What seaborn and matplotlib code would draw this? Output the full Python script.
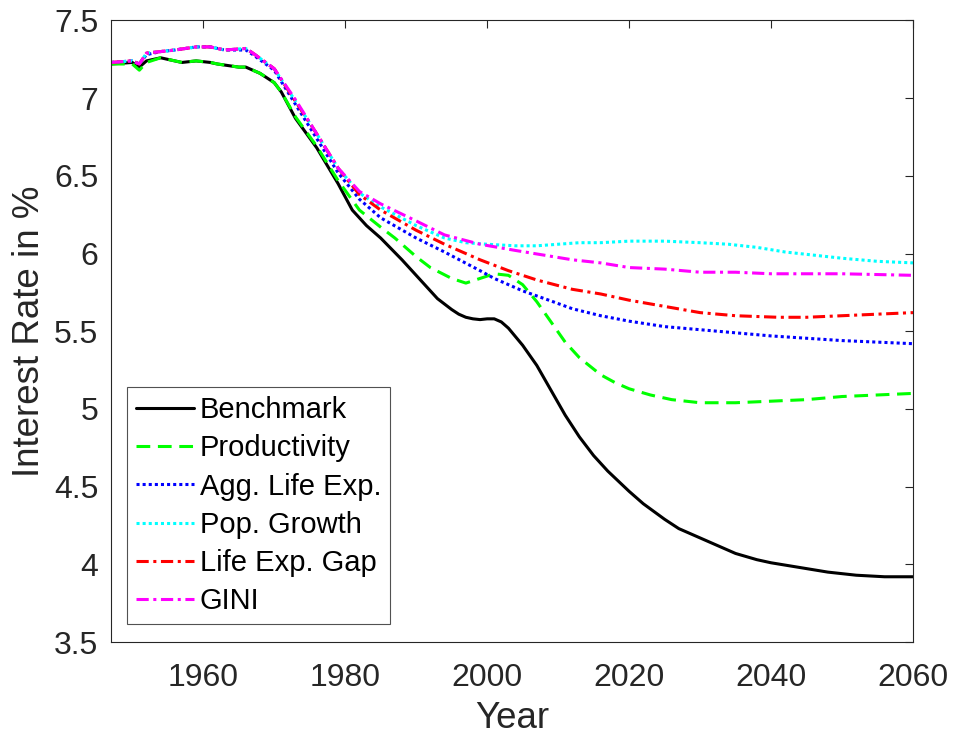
import matplotlib
matplotlib.use("Agg")
import matplotlib.pyplot as plt
import seaborn as sns

# ---------------- data ----------------
bench_years = [1947, 1950, 1951, 1952, 1954, 1957, 1959, 1961, 1962, 1965, 1966, 1968, 1970, 1971,
               1973, 1976, 1979, 1981, 1983, 1985, 1988, 1990, 1993, 1995, 1996, 1997, 1998, 1999,
               2000, 2001, 2002, 2003, 2005, 2007, 2009, 2011, 2013, 2015, 2017, 2020, 2022, 2025,
               2027, 2030, 2033, 2035, 2038, 2040, 2044, 2048, 2052, 2056, 2060]
bench_vals = [7.22, 7.23, 7.20, 7.24, 7.26, 7.23, 7.24, 7.23, 7.22, 7.20, 7.20, 7.16, 7.10, 7.04,
              6.87, 6.68, 6.45, 6.28, 6.18, 6.10, 5.96, 5.86, 5.71, 5.64, 5.61, 5.59, 5.58, 5.575,
              5.58, 5.58, 5.56, 5.52, 5.41, 5.28, 5.12, 4.96, 4.82, 4.70, 4.60, 4.47, 4.39, 4.29,
              4.23, 4.17, 4.11, 4.07, 4.03, 4.01, 3.98, 3.95, 3.93, 3.92, 3.92]

prod_years = [1947, 1950, 1951, 1952, 1954, 1957, 1959, 1961, 1962, 1965, 1966, 1968, 1970, 1971,
              1973, 1976, 1979, 1982, 1985, 1987, 1990, 1992, 1995, 1997, 1999, 2001, 2003, 2005,
              2007, 2009, 2011, 2013, 2016, 2018, 2020, 2023, 2026, 2030, 2035, 2040, 2045, 2050,
              2055, 2060]
prod_vals = [7.22, 7.22, 7.18, 7.23, 7.26, 7.23, 7.24, 7.23, 7.22, 7.20, 7.20, 7.16, 7.10, 7.04,
             6.88, 6.69, 6.47, 6.28, 6.17, 6.10, 5.98, 5.91, 5.84, 5.81, 5.84, 5.87, 5.86, 5.80,
             5.69, 5.56, 5.43, 5.33, 5.22, 5.17, 5.13, 5.09, 5.06, 5.04, 5.04, 5.05, 5.06, 5.08,
             5.09, 5.10]

agg_years = [1947, 1950, 1951, 1952, 1954, 1956, 1959, 1961, 1963, 1966, 1967, 1970, 1973, 1976,
             1979, 1982, 1985, 1990, 1994, 1999, 2001, 2005, 2009, 2012, 2016, 2020, 2025, 2030,
             2035, 2040, 2045, 2050, 2055, 2060]
agg_vals = [7.23, 7.24, 7.22, 7.28, 7.30, 7.31, 7.33, 7.33, 7.31, 7.31, 7.28, 7.18, 6.96, 6.74,
            6.52, 6.35, 6.23, 6.10, 6.01, 5.89, 5.84, 5.76, 5.695, 5.645, 5.60, 5.565, 5.53, 5.51,
            5.49, 5.47, 5.455, 5.44, 5.43, 5.42]

pop_years = [1947, 1950, 1951, 1952, 1954, 1956, 1959, 1961, 1963, 1966, 1967, 1970, 1973, 1976,
             1979, 1982, 1985, 1990, 1994, 1997, 2000, 2004, 2007, 2010, 2013, 2016, 2020, 2025,
             2030, 2034, 2038, 2042, 2046, 2050, 2055, 2060]
pop_vals = [7.23, 7.24, 7.22, 7.29, 7.30, 7.31, 7.33, 7.33, 7.31, 7.32, 7.29, 7.19, 6.98, 6.77,
            6.55, 6.39, 6.30, 6.18, 6.10, 6.07, 6.06, 6.05, 6.05, 6.06, 6.07, 6.07, 6.08, 6.08,
            6.07, 6.06, 6.04, 6.01, 5.99, 5.97, 5.95, 5.94]

gap_years = [1947, 1950, 1951, 1952, 1954, 1956, 1959, 1961, 1963, 1966, 1967, 1970, 1973, 1976,
             1979, 1982, 1985, 1990, 1994, 1999, 2003, 2007, 2012, 2016, 2020, 2025, 2030, 2035,
             2041, 2045, 2050, 2055, 2060]
gap_vals = [7.23, 7.24, 7.22, 7.29, 7.30, 7.31, 7.33, 7.33, 7.31, 7.32, 7.29, 7.19, 6.98, 6.77,
            6.55, 6.38, 6.28, 6.15, 6.06, 5.96, 5.89, 5.83, 5.77, 5.74, 5.70, 5.66, 5.62, 5.60,
            5.59, 5.59, 5.60, 5.61, 5.62]

gini_years = [1947, 1950, 1951, 1952, 1954, 1956, 1959, 1961, 1963, 1966, 1967, 1970, 1973, 1976,
              1979, 1982, 1985, 1990, 1994, 1999, 2004, 2008, 2012, 2016, 2020, 2025, 2030, 2035,
              2040, 2050, 2060]
gini_vals = [7.23, 7.24, 7.22, 7.29, 7.30, 7.31, 7.33, 7.33, 7.31, 7.32, 7.29, 7.19, 6.99, 6.77,
             6.55, 6.40, 6.32, 6.21, 6.12, 6.06, 6.02, 5.99, 5.96, 5.94, 5.91, 5.90, 5.88, 5.88,
             5.87, 5.87, 5.86]

labels = ["Benchmark", "Productivity", "Agg. Life Exp.", "Pop. Growth", "Life Exp. Gap", "GINI"]
x_ticks = [1960, 1980, 2000, 2020, 2040, 2060]
y_ticks = [3.5, 4, 4.5, 5, 5.5, 6, 6.5, 7, 7.5]
y_tick_labels = ["3.5", "4", "4.5", "5", "5.5", "6", "6.5", "7", "7.5"]

# ---------------- styling ----------------
sns.set_theme(style="white")
plt.rcParams["font.family"] = ["Liberation Sans", "DejaVu Sans"]

fig = plt.figure(figsize=(9.55, 7.4), dpi=100)
ax = fig.add_axes([0.1162, 0.1324, 0.8398, 0.8399])

series = [
    (bench_years, bench_vals, "black", "-"),
    (prod_years, prod_vals, "#00ff00", (0, (4.5, 2.5))),
    (agg_years, agg_vals, "#0000ff", (0, (1, 1))),
    (pop_years, pop_vals, "#00ffff", (0, (1, 1))),
    (gap_years, gap_vals, "#ff0000", (0, (4, 1.5, 1, 1.5))),
    (gini_years, gini_vals, "#ff00ff", (0, (4, 1.5, 1, 1.5))),
]
for (xs, ys, col, ls), lab in zip(series, labels):
    sns.lineplot(x=xs, y=ys, ax=ax, color=col, linestyle=ls, linewidth=2.2,
                 label=lab, estimator=None, errorbar=None, sort=False)

ax.set_xlim(1947, 2060)
ax.set_ylim(3.5, 7.5)
ax.set_xticks(x_ticks)
ax.set_xticklabels([str(t) for t in x_ticks])
ax.set_yticks(y_ticks)
ax.set_yticklabels(y_tick_labels)

edge = "#262626"
for s in ax.spines.values():
    s.set_visible(True)
    s.set_color(edge)
    s.set_linewidth(0.8)

ax.tick_params(axis="both", direction="in", top=True, right=True, length=6,
               width=0.8, colors=edge, labelsize=23)
ax.tick_params(axis="x", pad=15)
ax.tick_params(axis="y", pad=9)

ax.set_xlabel("Year", fontsize=26.5, color=edge, labelpad=6)
ax.set_ylabel("Interest Rate in %", fontsize=26.5, color=edge, labelpad=5)

leg = ax.legend(loc="lower left", bbox_to_anchor=(0.02, 0.029), borderaxespad=0,
                fontsize=21, frameon=True, fancybox=False, edgecolor=edge,
                handlelength=2.0, handletextpad=0.2, labelspacing=0.35,
                borderpad=0.3)
leg.get_frame().set_linewidth(0.8)
for t in leg.get_texts():
    t.set_color("black")

fig.savefig("out.png", dpi=100)
